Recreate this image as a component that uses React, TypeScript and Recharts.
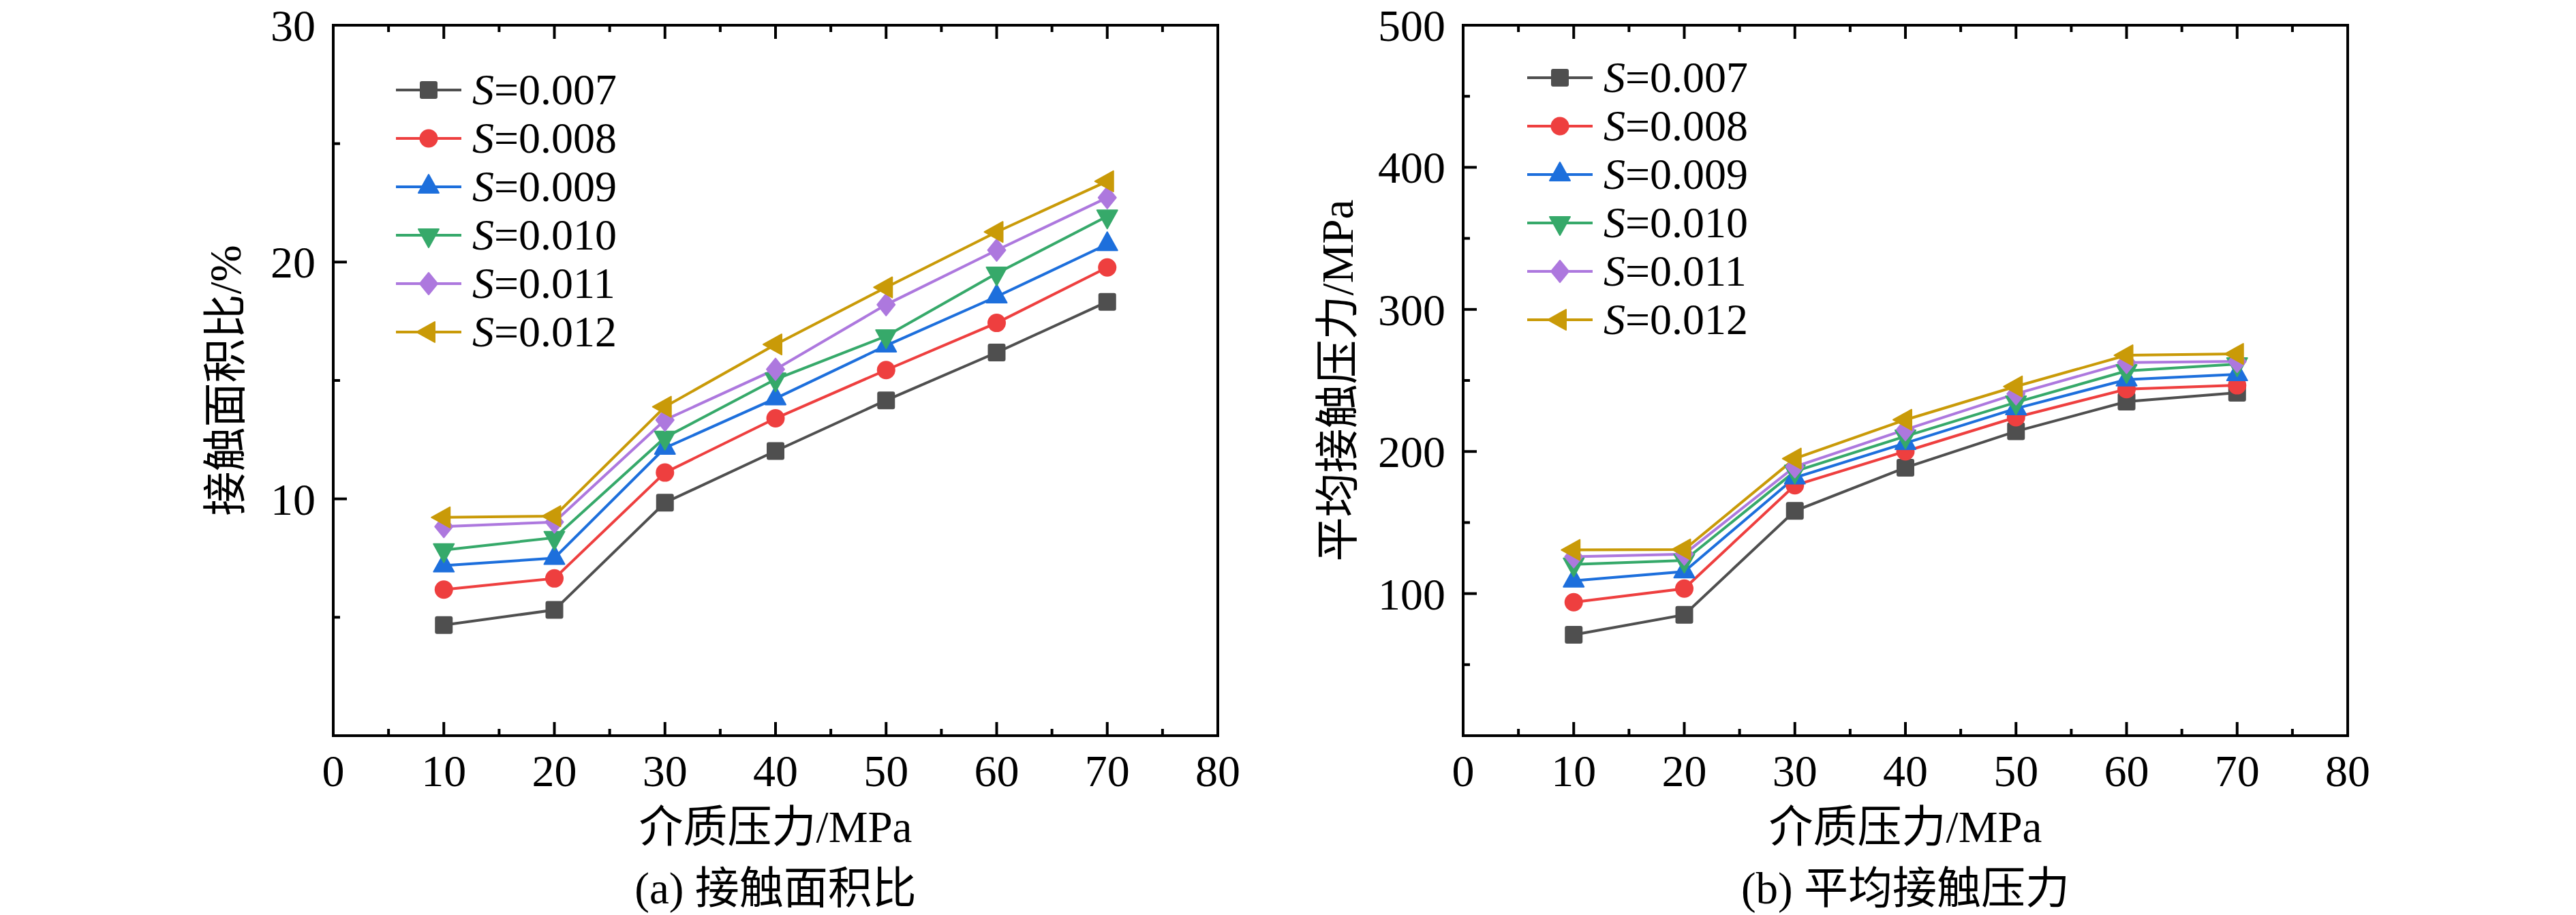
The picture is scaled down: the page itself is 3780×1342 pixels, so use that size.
import React from "react";
import { LineChart, Line, XAxis, YAxis } from "recharts";

const FONT = "'Liberation Serif', 'Noto Sans CJK SC', serif";

const pressures = [10, 20, 30, 40, 50, 60, 70];
const xTicks = [0, 5, 10, 15, 20, 25, 30, 35, 40, 45, 50, 55, 60, 65, 70, 75, 80];
const areaTicks = [0, 5, 10, 15, 20, 25, 30];
const contactTicks = [0, 50, 100, 150, 200, 250, 300, 350, 400, 450, 500];

const seriesNames = ["0.007", "0.008", "0.009", "0.010", "0.011", "0.012"];
const seriesColors = ["#4f4f4f", "#ee3f3f", "#1d6fdc", "#36a96a", "#ad78de", "#c99a08"];
const seriesShapes = ["square", "circle", "up", "down", "diamond", "left"];

// (a) contact area ratio, %
const areaS007 = [4.67, 5.31, 9.84, 12.02, 14.16, 16.18, 18.32];
const areaS008 = [6.17, 6.64, 11.11, 13.4, 15.44, 17.43, 19.77];
const areaS009 = [7.18, 7.5, 12.15, 14.24, 16.47, 18.54, 20.75];
const areaS010 = [7.84, 8.36, 12.59, 15.05, 16.87, 19.52, 21.93];
const areaS011 = [8.83, 9.02, 13.33, 15.47, 18.2, 20.5, 22.72];
const areaS012 = [9.22, 9.27, 13.89, 16.52, 18.93, 21.27, 23.41];

// (b) mean contact pressure, MPa
const contactS007 = [71.0, 85.1, 158.2, 188.6, 214.2, 235.1, 241.4];
const contactS008 = [93.9, 103.5, 176.2, 200.1, 224.1, 243.9, 246.6];
const contactS009 = [109.1, 115.5, 181.6, 205.9, 230.3, 250.6, 254.3];
const contactS010 = [120.6, 123.3, 186.0, 210.7, 234.6, 256.7, 261.5];
const contactS011 = [125.9, 127.8, 189.3, 215.4, 240.6, 262.6, 263.4];
const contactS012 = [130.7, 131.0, 195.0, 222.3, 245.8, 267.7, 268.7];

const areaSeries = [areaS007, areaS008, areaS009, areaS010, areaS011, areaS012];
const contactSeries = [contactS007, contactS008, contactS009, contactS010, contactS011, contactS012];

const buildRows = (series: number[][]) =>
  pressures.map((p, i) => {
    const row: Record<string, number> = { x: p };
    series.forEach((s, k) => {
      row["s" + k] = s[i];
    });
    return row;
  });

const areaData = buildRows(areaSeries);
const contactData = buildRows(contactSeries);

const Marker = ({ cx, cy, shape, color }: any) => {
  const common = { fill: color, stroke: color, strokeWidth: 2, strokeLinejoin: "round" as const };
  if (shape === "square") return <rect x={cx - 12} y={cy - 12} width={24} height={24} rx={2} {...common} />;
  if (shape === "circle") return <circle cx={cx} cy={cy} r={13.5} fill={color} />;
  let pts = "";
  if (shape === "up") pts = `${cx},${cy - 18} ${cx + 15},${cy + 9} ${cx - 15},${cy + 9}`;
  if (shape === "down") pts = `${cx},${cy + 18} ${cx + 15},${cy - 9} ${cx - 15},${cy - 9}`;
  if (shape === "diamond") pts = `${cx},${cy - 16} ${cx + 13},${cy} ${cx},${cy + 16} ${cx - 13},${cy}`;
  if (shape === "left") pts = `${cx - 18},${cy} ${cx + 9},${cy - 15} ${cx + 9},${cy + 15}`;
  return <polygon points={pts} {...common} />;
};

const tickLen = (v: number, major: number) => (v % major === 0 ? 20 : 10);

const BottomTick = ({ x, y, payload }: any) => (
  <g>
    <line x1={x} y1={y} x2={x} y2={y - tickLen(payload.value, 10)} stroke="#000" strokeWidth={4} />
    {payload.value % 10 === 0 && (
      <text x={x} y={y + 74} textAnchor="middle" fontFamily={FONT} fontSize={66} fill="#000">
        {payload.value}
      </text>
    )}
  </g>
);

const TopTick = ({ x, y, payload }: any) => (
  <line x1={x} y1={y} x2={x} y2={y + tickLen(payload.value, 10)} stroke="#000" strokeWidth={4} />
);

const makeLeftTick = (major: number) => ({ x, y, payload }: any) => (
  <g>
    <line x1={x} y1={y} x2={x + tickLen(payload.value, major)} y2={y} stroke="#000" strokeWidth={4} />
    {payload.value % major === 0 && payload.value !== 0 && (
      <text x={x - 26} y={y + 23} textAnchor="end" fontFamily={FONT} fontSize={66} fill="#000">
        {payload.value}
      </text>
    )}
  </g>
);

const makeRightTick = (major: number) => ({ x, y, payload }: any) => (
  <line x1={x} y1={y} x2={x - tickLen(payload.value, major)} y2={y} stroke="#000" strokeWidth={4} />
);

const LegendBox = ({ left, top }: any) => (
  <div style={{ position: "absolute", left, top, fontFamily: FONT }}>
    {seriesNames.map((name, i) => (
      <div key={name} style={{ display: "flex", alignItems: "center", height: 71 }}>
        <svg width={96} height={44}>
          <line x1={0} y1={22} x2={96} y2={22} stroke={seriesColors[i]} strokeWidth={4} />
          <Marker cx={48} cy={22} shape={seriesShapes[i]} color={seriesColors[i]} />
        </svg>
        <span style={{ marginLeft: 16, fontSize: 64, lineHeight: 1, color: "#000", whiteSpace: "nowrap" }}>
          <i>S</i>={name}
        </span>
      </div>
    ))}
  </div>
);

const axisLine = { stroke: "#000", strokeWidth: 4, strokeLinecap: "square" as const };

const Panel = ({ data, yTicks, yMax, yMajor, left, width, margin }: any) => (
  <div style={{ position: "absolute", left, top: 0 }}>
    <LineChart width={width} height={1342} data={data} margin={margin}>
      <XAxis
        dataKey="x"
        type="number"
        domain={[0, 80]}
        ticks={xTicks}
        interval={0}
        height={1}
        tickSize={0}
        tickMargin={0}
        tickLine={false}
        axisLine={axisLine}
        tick={<BottomTick />}
      />
      <XAxis
        xAxisId="top"
        orientation="top"
        dataKey="x"
        type="number"
        domain={[0, 80]}
        ticks={xTicks}
        interval={0}
        height={1}
        tickSize={0}
        tickMargin={0}
        tickLine={false}
        axisLine={axisLine}
        tick={<TopTick />}
      />
      <YAxis
        type="number"
        domain={[0, yMax]}
        ticks={yTicks}
        interval={0}
        width={1}
        tickSize={0}
        tickMargin={0}
        tickLine={false}
        axisLine={axisLine}
        tick={makeLeftTick(yMajor)}
      />
      <YAxis
        yAxisId="right"
        orientation="right"
        type="number"
        domain={[0, yMax]}
        ticks={yTicks}
        interval={0}
        width={1}
        tickSize={0}
        tickMargin={0}
        tickLine={false}
        axisLine={axisLine}
        tick={makeRightTick(yMajor)}
      />
      {seriesNames.map((name, i) => (
        <Line
          key={name}
          type="linear"
          dataKey={"s" + i}
          name={"S=" + name}
          stroke={seriesColors[i]}
          strokeWidth={4}
          isAnimationActive={false}
          dot={(p: any) => (
            <Marker key={name + p.index} cx={p.cx} cy={p.cy} shape={seriesShapes[i]} color={seriesColors[i]} />
          )}
          activeDot={false}
        />
      ))}
    </LineChart>
  </div>
);

const textStyle = (x: number, y: number, rotate = false): React.CSSProperties => ({
  position: "absolute",
  left: x,
  top: y,
  transform: `translate(-50%, -50%)${rotate ? " rotate(-90deg)" : ""}`,
  fontFamily: FONT,
  fontSize: 65,
  lineHeight: 1,
  whiteSpace: "nowrap",
  color: "#000",
});

export default function App() {
  return (
    <div style={{ position: "absolute", left: 0, top: 0, width: 3780, height: 1342, background: "#fff" }}>
      <Panel
        data={areaData}
        yTicks={areaTicks}
        yMax={30}
        yMajor={10}
        left={0}
        width={1900}
        margin={{ top: 36, left: 488, right: 112, bottom: 262 }}
      />
      <Panel
        data={contactData}
        yTicks={contactTicks}
        yMax={500}
        yMajor={100}
        left={1900}
        width={1880}
        margin={{ top: 36, left: 246, right: 334, bottom: 262 }}
      />
      <LegendBox left={581} top={96} />
      <LegendBox left={2241} top={78} />
      <div style={textStyle(1138, 1213)}>介质压力/MPa</div>
      <div style={textStyle(1138, 1303)}>(a) 接触面积比</div>
      <div style={textStyle(331, 558, true)}>接触面积比/%</div>
      <div style={textStyle(2796, 1213)}>介质压力/MPa</div>
      <div style={textStyle(2796, 1303)}>(b) 平均接触压力</div>
      <div style={textStyle(1963, 558, true)}>平均接触压力/MPa</div>
    </div>
  );
}
